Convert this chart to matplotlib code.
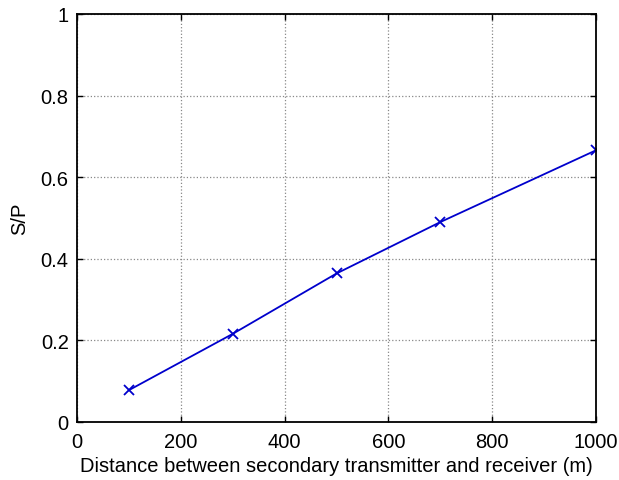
import matplotlib
matplotlib.use("Agg")
import matplotlib.pyplot as plt

distance = [100, 300, 500, 700, 1000]
sp_ratio = [0.078, 0.216, 0.364, 0.490, 0.666]
x_ticks = [0, 200, 400, 600, 800, 1000]
y_ticks = [0, 0.2, 0.4, 0.6, 0.8, 1]
y_tick_labels = ["0", "0.2", "0.4", "0.6", "0.8", "1"]

plt.rcParams['font.family'] = ['Liberation Sans', 'DejaVu Sans']
fig = plt.figure(figsize=(6.19, 4.81), dpi=100)
ax = fig.add_axes([77/619, 1 - 423/481, (596 - 77)/619, (423 - 15)/481])
ax.plot(distance, sp_ratio, color='#0000cc', lw=1.3, marker='x', ms=7, mew=1.3)
ax.set_xlim(0, 1000)
ax.set_ylim(0, 1)
ax.set_xticks(x_ticks)
ax.set_yticks(y_ticks)
ax.set_yticklabels(y_tick_labels)
ax.tick_params(direction='in', length=4, width=1, labelsize=14.5, pad=6, top=True, right=True)
ax.tick_params(axis='x', pad=7)
ax.grid(True, linestyle=':', color='#888888', lw=0.9)
for s in ax.spines.values():
    s.set_linewidth(1.3)
ax.set_xlabel('Distance between secondary transmitter and receiver (m)', fontsize=14.5, labelpad=4)
ax.set_ylabel('S/P', fontsize=14.5, labelpad=8)
fig.savefig('out.png', dpi=100)
